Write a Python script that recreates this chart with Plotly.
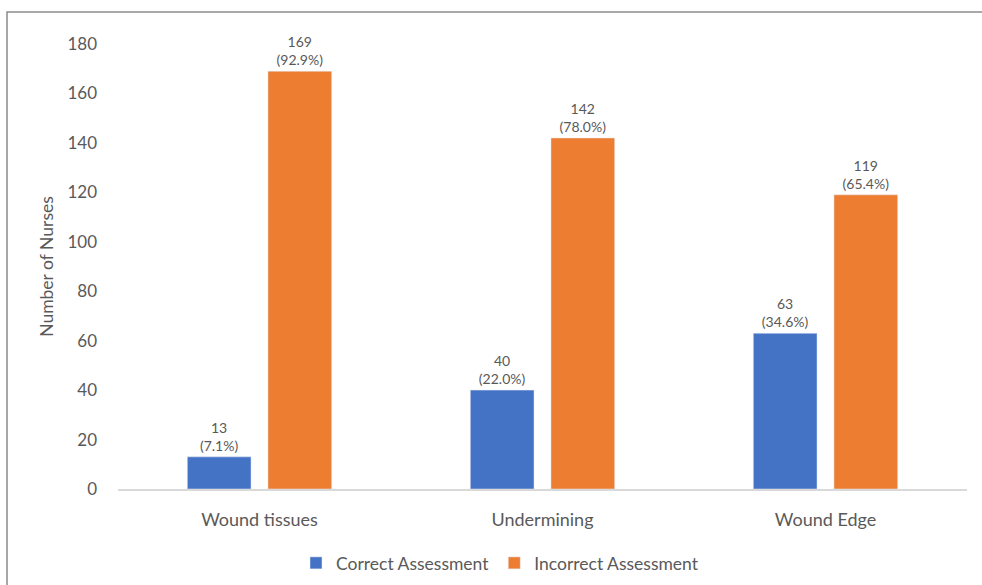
import plotly.graph_objects as go

categories = ["Wound tissues", "Undermining", "Wound Edge"]
correct = [13, 40, 63]
correct_pct = [7.1, 22.0, 34.6]
incorrect = [169, 142, 119]
incorrect_pct = [92.9, 78.0, 65.4]
y_ticks = [0, 20, 40, 60, 80, 100, 120, 140, 160, 180]

W, H = 982, 585
L, R, T, B = 118, 967, 44, 489

gray = "#595959"
font_family = "Lato, 'Open Sans', sans-serif"

fig = go.Figure()
fig.add_trace(go.Bar(
    name="Correct Assessment", x=categories, y=correct,
    marker_color="#4472C4",
    text=[f"{v}<br>({p:.1f}%)" for v, p in zip(correct, correct_pct)],
    textposition="outside", cliponaxis=False,
    textfont=dict(size=14, color=gray, family=font_family),
))
fig.add_trace(go.Bar(
    name="Incorrect Assessment", x=categories, y=incorrect,
    marker_color="#ED7D31",
    text=[f"{v}<br>({p:.1f}%)" for v, p in zip(incorrect, incorrect_pct)],
    textposition="outside", cliponaxis=False,
    textfont=dict(size=14, color=gray, family=font_family),
))

pw, ph = R - L, B - T
fig.add_shape(type="rect", xref="paper", yref="paper",
              x0=(7 - L) / pw, x1=(W + 20 - L) / pw,
              y0=(B - (H + 20)) / ph, y1=(B - 12) / ph,
              line=dict(color="#8C8C8C", width=1.5), fillcolor="rgba(0,0,0,0)", layer="below")

fig.update_layout(
    width=W, height=H,
    margin=dict(l=L, r=W - R, t=T, b=H - B, autoexpand=False),
    paper_bgcolor="white", plot_bgcolor="white",
    barmode="group", bargap=0.43, bargroupgap=0.21,
    font=dict(family=font_family, color=gray, size=16),
    showlegend=True,
    legend=dict(orientation="h", x=(500 - L) / pw, xanchor="center",
                y=(B - 563) / ph, yanchor="middle",
                font=dict(size=17.5, color=gray), itemwidth=30,
                traceorder="normal"),
    xaxis=dict(showline=True, linecolor="#D9D9D9", linewidth=1.5,
               ticks="", ticklabelstandoff=14,
               tickfont=dict(size=18, color=gray),
               showgrid=False, zeroline=False, fixedrange=True),
    yaxis=dict(range=[0, 180], tickvals=y_ticks, showgrid=False,
               zeroline=False, showline=False, ticks="",
               ticklabelstandoff=20,
               tickfont=dict(size=17, color=gray),
               title=dict(text="Number of Nurses", standoff=9,
                          font=dict(size=17.5, color=gray))),
)

fig.write_html("out.html")
